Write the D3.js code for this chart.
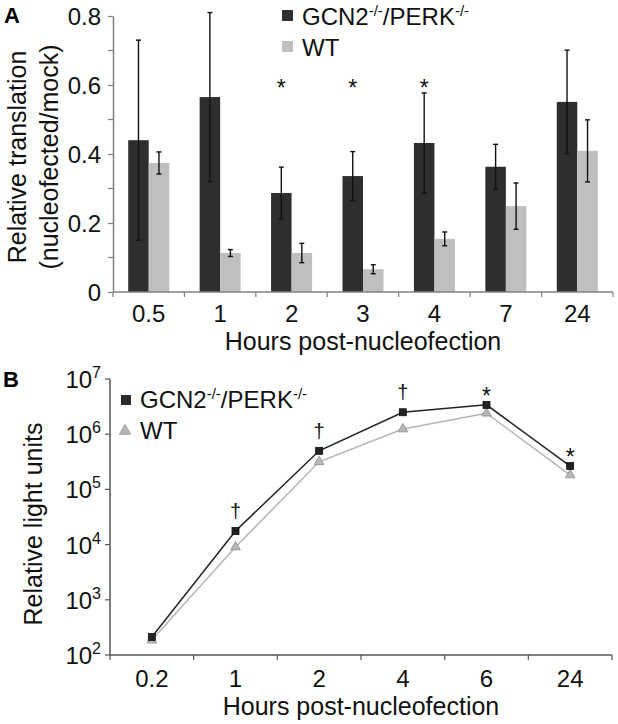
<!DOCTYPE html>
<html><head><meta charset="utf-8">
<script src="https://cdn.jsdelivr.net/npm/d3@7"></script>
<style>
html,body{margin:0;padding:0;background:#fff;}
svg{display:block;font-family:"Liberation Sans",Arial,sans-serif;}
</style></head><body>
<svg id="c" width="618" height="724"></svg>
<script>
// ---------- Panel A data ----------
const catsA = ["0.5","1","2","3","4","7","24"];
const seriesA = ["GCN2","WT"];
const gcnA = [0.44, 0.565, 0.287, 0.336, 0.432, 0.363, 0.551];
const gcnErrA = [0.29, 0.245, 0.075, 0.071, 0.145, 0.065, 0.15];
const wtA = [0.374, 0.113, 0.113, 0.066, 0.154, 0.249, 0.409];
const wtErrA = [0.032, 0.010, 0.028, 0.013, 0.020, 0.067, 0.09];
const sigA = ["", "", "*", "*", "*", "", ""];
const ticksA = [0, 0.2, 0.4, 0.6, 0.8];
const minorTicksA = [0.1, 0.3, 0.5, 0.7];

// ---------- Panel B data ----------
const catsB = ["0.2","1","2","4","6","24"];
const gcnB = [212, 17600, 500000, 2500000, 3400000, 265000];
const wtB = [186, 9050, 316000, 1240000, 2400000, 182000];
const sigB = ["", "\u2020", "\u2020", "\u2020", "*", "*"];
const expB = [2,3,4,5,6,7];

const DARK = "#2e2e2e", LIGHT = "#bfbfbf", AX = "#808080";
const FT = 25, FK = 24;
const svg = d3.select("#c");

// ================= Panel A =================
const A = {l:113, r:613, t:16, b:292};
const xA = d3.scaleBand().domain(catsA).range([A.l, A.r]).paddingInner(0.426).paddingOuter(0.213);
const sA = d3.scaleBand().domain(seriesA).range([0, xA.bandwidth()]);
const yA = d3.scaleLinear().domain([0, 0.8]).range([A.b, A.t]);
const gA = svg.append("g");

const rowsA = catsA.map((c,i)=>({c, vals:[{s:"GCN2",v:gcnA[i],e:gcnErrA[i]},{s:"WT",v:wtA[i],e:wtErrA[i]}], sig:sigA[i]}));
const grp = gA.selectAll("g.grp").data(rowsA).enter().append("g").attr("transform",d=>`translate(${xA(d.c)},0)`);
grp.selectAll("rect").data(d=>d.vals).enter().append("rect")
  .attr("x",d=>sA(d.s)).attr("width",sA.bandwidth())
  .attr("y",d=>yA(d.v)).attr("height",d=>yA(0)-yA(d.v))
  .attr("fill",d=>d.s==="GCN2"?DARK:LIGHT);
const eb = grp.selectAll("g.eb").data(d=>d.vals).enter().append("g").attr("stroke","#111").attr("stroke-width",1.4);
eb.append("line").attr("x1",d=>sA(d.s)+sA.bandwidth()/2).attr("x2",d=>sA(d.s)+sA.bandwidth()/2)
  .attr("y1",d=>yA(d.v+d.e)).attr("y2",d=>yA(d.v-d.e));
eb.append("line").attr("x1",d=>sA(d.s)+sA.bandwidth()/2-2.5).attr("x2",d=>sA(d.s)+sA.bandwidth()/2+2.5)
  .attr("y1",d=>yA(d.v+d.e)).attr("y2",d=>yA(d.v+d.e));
eb.append("line").attr("x1",d=>sA(d.s)+sA.bandwidth()/2-2.5).attr("x2",d=>sA(d.s)+sA.bandwidth()/2+2.5)
  .attr("y1",d=>yA(d.v-d.e)).attr("y2",d=>yA(d.v-d.e));
grp.append("text").text(d=>d.sig).attr("x",sA("GCN2")+sA.bandwidth()/2).attr("y",96)
  .attr("text-anchor","middle").attr("font-size",23).attr("fill","#111");

// axes A
const yAxA = gA.append("g").attr("transform",`translate(${A.l},0)`)
  .call(d3.axisLeft(yA).tickValues(ticksA).tickFormat(d=>d===0?"0":d3.format(".1f")(d)).tickSize(5).tickSizeOuter(0));
yAxA.select(".domain").attr("stroke",AX).attr("stroke-width",1.5);
yAxA.selectAll(".tick line").attr("stroke",AX).attr("stroke-width",1.2);
yAxA.selectAll(".tick text").attr("font-size",FK).attr("fill","#111").attr("x",-12).attr("dy","0.36em")
  .attr("font-family","Liberation Sans, Arial, sans-serif");
gA.append("g").selectAll("line").data(minorTicksA).enter().append("line")
  .attr("x1",A.l-5).attr("x2",A.l).attr("y1",d=>yA(d)).attr("y2",d=>yA(d)).attr("stroke",AX).attr("stroke-width",1.2);

gA.append("line").attr("x1",A.l).attr("x2",A.r).attr("y1",A.b).attr("y2",A.b).attr("stroke",AX).attr("stroke-width",1.5);
const bndA = catsA.map(c=>xA(c)-xA.step()*xA.paddingOuter()).concat([A.r]);
gA.append("g").selectAll("line").data(bndA).enter().append("line")
  .attr("x1",d=>d).attr("x2",d=>d).attr("y1",A.b).attr("y2",A.b+5).attr("stroke",AX).attr("stroke-width",1.2);
gA.append("g").selectAll("text").data(catsA).enter().append("text").text(d=>d)
  .attr("x",d=>xA(d)+xA.bandwidth()/2).attr("y",322).attr("text-anchor","middle").attr("font-size",FK).attr("fill","#111");
gA.append("text").text("Hours post-nucleofection").attr("x",(A.l+A.r)/2).attr("y",350)
  .attr("text-anchor","middle").attr("font-size",FT).attr("fill","#111");
gA.append("text").attr("transform",`translate(26,${(A.t+A.b)/2+3}) rotate(-90)`).text("Relative translation")
  .attr("text-anchor","middle").attr("font-size",FT).attr("fill","#111");
gA.append("text").attr("transform",`translate(58,${(A.t+A.b)/2+3}) rotate(-90)`).text("(nucleofected/mock)")
  .attr("text-anchor","middle").attr("font-size",FT).attr("fill","#111");
gA.append("text").text("A").attr("x",4).attr("y",23).attr("font-size",22).attr("font-weight","bold");

// legend A
const legA = gA.append("g");
legA.append("rect").attr("x",282).attr("y",10).attr("width",11).attr("height",11).attr("fill",DARK);
legA.append("rect").attr("x",282).attr("y",41).attr("width",11).attr("height",11).attr("fill",LIGHT);
const tA = legA.append("text").attr("x",302).attr("y",25).attr("font-size",FK).attr("fill","#111");
tA.append("tspan").text("GCN2");
tA.append("tspan").text("-/-").attr("font-size",15).attr("dy",-9);
tA.append("tspan").text("/PERK").attr("dy",9);
tA.append("tspan").text("-/-").attr("font-size",15).attr("dy",-9);
legA.append("text").attr("x",302).attr("y",56).attr("font-size",FK).attr("fill","#111").text("WT");

// ================= Panel B =================
const B = {l:110, r:612, t:379, b:655};
const xB = d3.scaleBand().domain(catsB).range([B.l, B.r]);
const yB = d3.scaleLog().domain([1e2, 1e7]).range([B.b, B.t]);
const gB = svg.append("g");
const BAX = "#555";
gB.append("line").attr("x1",B.l).attr("x2",B.l).attr("y1",B.t).attr("y2",B.b).attr("stroke",BAX).attr("stroke-width",1.5);
gB.append("line").attr("x1",B.l).attr("x2",B.r).attr("y1",B.b).attr("y2",B.b).attr("stroke",BAX).attr("stroke-width",1.5);
gB.append("g").selectAll("line").data(expB).enter().append("line")
  .attr("x1",B.l-5).attr("x2",B.l).attr("y1",d=>yB(Math.pow(10,d))).attr("y2",d=>yB(Math.pow(10,d))).attr("stroke",BAX).attr("stroke-width",1.2);
const ytB = gB.append("g").selectAll("text").data(expB).enter().append("text")
  .attr("x",101).attr("y",d=>yB(Math.pow(10,d))+9).attr("text-anchor","end").attr("font-size",FK).attr("fill","#111");
ytB.append("tspan").text("10");
ytB.append("tspan").text(d=>d).attr("font-size",16).attr("dy",-10);
const bndB = catsB.map(c=>xB(c)).concat([B.r]);
gB.append("g").selectAll("line").data(bndB).enter().append("line")
  .attr("x1",d=>d).attr("x2",d=>d).attr("y1",B.b).attr("y2",B.b+5).attr("stroke",BAX).attr("stroke-width",1.2);
gB.append("g").selectAll("text").data(catsB).enter().append("text").text(d=>d)
  .attr("x",d=>xB(d)+xB.bandwidth()/2).attr("y",687).attr("text-anchor","middle").attr("font-size",FK).attr("fill","#111");
gB.append("text").text("Hours post-nucleofection").attr("x",(B.l+B.r)/2).attr("y",715)
  .attr("text-anchor","middle").attr("font-size",FT).attr("fill","#111");
gB.append("text").attr("transform",`translate(42,${(B.t+B.b)/2+7}) rotate(-90)`).text("Relative light units")
  .attr("text-anchor","middle").attr("font-size",FT).attr("fill","#111");
gB.append("text").text("B").attr("x",3).attr("y",387).attr("font-size",22).attr("font-weight","bold");

const cx = c=>xB(c)+xB.bandwidth()/2;
const line = d3.line().x((d,i)=>cx(catsB[i])).y(d=>yB(d));
gB.append("path").datum(wtB).attr("d",line).attr("fill","none").attr("stroke","#b5b5b5").attr("stroke-width",1.5);
gB.append("path").datum(gcnB).attr("d",line).attr("fill","none").attr("stroke","#222").attr("stroke-width",1.5);
const tri = d3.symbol().type(d3.symbolTriangle).size(40);
gB.append("g").selectAll("path").data(wtB).enter().append("path")
  .attr("d",tri).attr("transform",(d,i)=>`translate(${cx(catsB[i])},${yB(d)})`)
  .attr("fill","#b8b8b8").attr("stroke","#999").attr("stroke-width",1);
gB.append("g").selectAll("rect").data(gcnB).enter().append("rect")
  .attr("x",(d,i)=>cx(catsB[i])-3.5).attr("y",d=>yB(d)-3.5).attr("width",7).attr("height",7)
  .attr("fill","#222").attr("stroke","#111").attr("stroke-width",0.8);
gB.append("g").selectAll("text").data(sigB).enter().append("text").text(d=>d)
  .attr("x",(d,i)=>cx(catsB[i])).attr("y",(d,i)=>d==="*"?yB(gcnB[i])-1:yB(gcnB[i])-13)
  .attr("text-anchor","middle").attr("font-size",d=>d==="*"?23:20).attr("fill","#111");

// legend B
const legB = gB.append("g");
legB.append("rect").attr("x",121).attr("y",395).attr("width",10).attr("height",10).attr("fill","#2a2a2a");
legB.append("path").attr("d",d3.symbol().type(d3.symbolTriangle).size(55)).attr("transform","translate(125,431)")
  .attr("fill","#b8b8b8").attr("stroke","#a0a0a0");
const tB = legB.append("text").attr("x",140).attr("y",408).attr("font-size",FK).attr("fill","#111");
tB.append("tspan").text("GCN2");
tB.append("tspan").text("-/-").attr("font-size",15).attr("dy",-9);
tB.append("tspan").text("/PERK").attr("dy",9);
tB.append("tspan").text("-/-").attr("font-size",15).attr("dy",-9);
legB.append("text").attr("x",140).attr("y",439).attr("font-size",FK).attr("fill","#111").text("WT");
</script></body></html>
